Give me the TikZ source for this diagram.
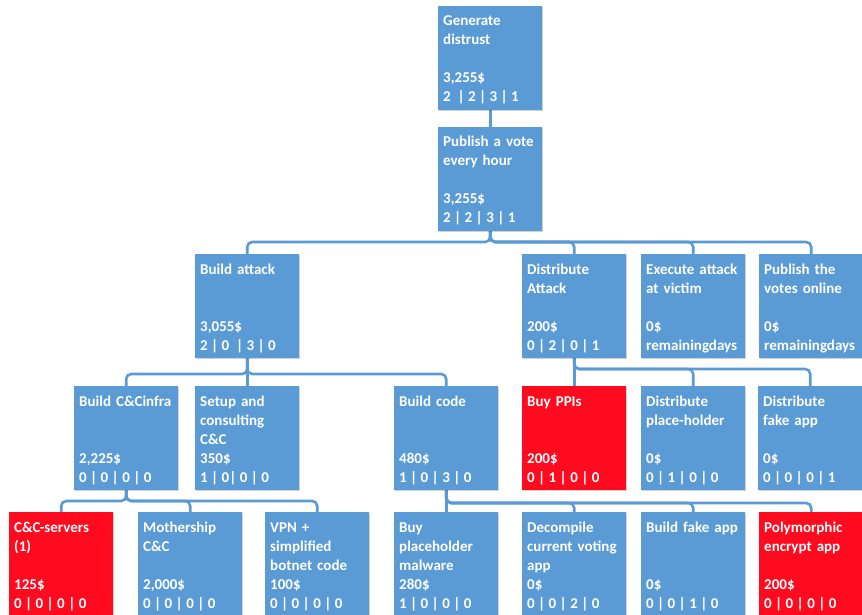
\documentclass[tikz,border=0pt]{standalone}
\usepackage{fontspec}
\newfontfamily\boxfont{Carlito}
\usetikzlibrary{shadows,backgrounds}

\definecolor{boxblue}{HTML}{5B9BD5}
\definecolor{boxred}{HTML}{FF0A1E}
\definecolor{lineblue}{HTML}{5B9BD5}

% five-line box text: title lines, cost, scores (scores set with tighter spaces)
\newcommand\boxtext[5]{\rule{0pt}{17.3bp}#1\\\strut#2\\\strut#3\\\strut#4\\\strut{\spaceskip=3.4bp\relax #5}}

\tikzset{
  box/.style={fill=boxblue, draw=none, anchor=north west,
    minimum width=104bp, minimum height=104bp,
    inner xsep=5bp, inner ysep=0pt, text width=94bp, align=left,
    text=white, font=\boxfont\bfseries\fontsize{15bp}{19bp}\selectfont,
    drop shadow={shadow xshift=1.2bp, shadow yshift=-1.2bp, fill=black, opacity=0.18}},
  hot/.style={box, fill=boxred},
  conn/.style={draw=lineblue, line width=2.6bp, rounded corners=5bp},
}

\begin{document}
\begin{tikzpicture}[x=1bp, y=-1bp]
\useasboundingbox (0,0) rectangle (862,615);

% bus levels for the elbow connectors
\coordinate (busA) at (0,242);
\coordinate (busB) at (0,374);
\coordinate (busC) at (0,369);
\coordinate (busD) at (0,501);
\coordinate (busE) at (0,503);

% top of the tree
\node[box] (goal) at (438,6)   {\boxtext{Generate}{distrust}{}{3,255\$}{2\ \ | 2 | 3 | 1}};
\node[box] (vote) at (438,127) {\boxtext{Publish a vote}{every hour}{}{3,255\$}{2 | 2 | 3 | 1}};

% second level
\node[box] (build) at (195,254) {\boxtext{Build attack}{}{}{3,055\$}{2 | 0\ \ | 3 | 0}};
\node[box] (dist)  at (522,254) {\boxtext{Distribute}{Attack}{}{200\$}{0 | 2 | 0 | 1}};
\node[box] (exec)  at (641,254) {\boxtext{Execute attack}{at victim}{}{0\$}{remainingdays}};
\node[box] (pub)   at (759,254) {\boxtext{Publish the}{votes online}{}{0\$}{remainingdays}};

% third level
\node[box] (infra) at (74,386)  {\boxtext{Build C\&Cinfra}{}{}{2,225\$}{0 | 0 | 0 | 0}};
\node[box] (setup) at (195,386) {\boxtext{Setup and}{consulting}{C\&C}{350\$}{1 | 0| 0 | 0}};
\node[box] (code)  at (394,386) {\boxtext{Build code}{}{}{480\$}{1 | 0 | 3 | 0}};
\node[hot] (ppi)   at (522,386) {\boxtext{Buy PPIs}{}{}{200\$}{0 | 1 | 0 | 0}};
\node[box] (dph)   at (641,386) {\boxtext{Distribute}{place-holder}{}{0\$}{0 | 1 | 0 | 0}};
\node[box] (dfake) at (758,386) {\boxtext{Distribute}{fake app}{}{0\$}{0 | 0 | 0 | 1}};

% leaves
\node[hot] (srv)   at (9,512)   {\boxtext{C\&C-servers}{(1)}{}{125\$}{0 | 0 | 0 | 0}};
\node[box] (moth)  at (138,512) {\boxtext{Mothership}{C\&C}{}{2,000\$}{0 | 0 | 0 | 0}};
\node[box] (vpn)   at (265,512) {\boxtext{VPN +}{simplified}{botnet code}{100\$}{0 | 0 | 0 | 0}};
\node[box] (mal)   at (394,512) {\boxtext{Buy}{placeholder}{malware}{280\$}{1 | 0 | 0 | 0}};
\node[box] (dec)   at (522,512) {\boxtext{Decompile}{current voting}{app}{0\$}{0 | 0 | 2 | 0}};
\node[box] (bfake) at (641,512) {\boxtext{Build fake app}{}{}{0\$}{0 | 0 | 1 | 0}};
\node[hot] (poly)  at (759,512) {\boxtext{Polymorphic}{encrypt app}{}{200\$}{0 | 0 | 0 | 0}};

\begin{scope}[on background layer]
  \draw[conn] (goal.south) -- (vote.north);
  \foreach \c in {build,dist,exec,pub}
    \draw[conn] (vote.south) -- (vote.south |- busA) -| (\c.north);
  \foreach \c in {infra,setup,code}
    \draw[conn] (build.south) -- (build.south |- busB) -| (\c.north);
  \foreach \c in {ppi,dph,dfake}
    \draw[conn] (dist.south) -- (dist.south |- busC) -| (\c.north);
  \foreach \c in {srv,moth,vpn}
    \draw[conn] (infra.south) -- (infra.south |- busD) -| (\c.north);
  \foreach \c in {mal,dec,bfake,poly}
    \draw[conn] (code.south) -- (code.south |- busE) -| (\c.north);
\end{scope}
\end{tikzpicture}
\end{document}
